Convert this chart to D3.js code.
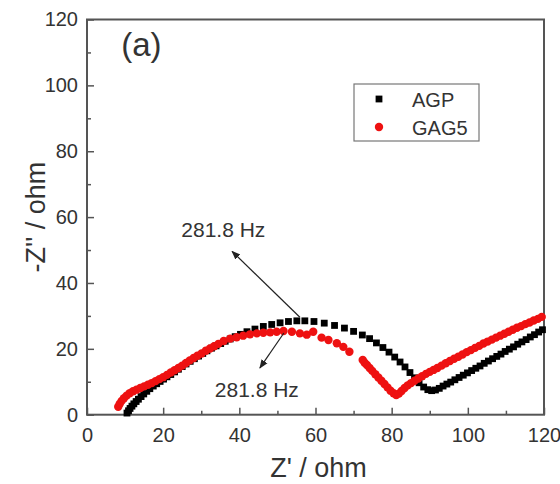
<!DOCTYPE html>
<html><head><meta charset="utf-8">
<script src="https://cdn.jsdelivr.net/npm/d3@7/dist/d3.min.js"></script>
<style>body{margin:0;background:#fff}svg{display:block}text{font-family:"Liberation Sans",Arial,sans-serif;fill:#333}</style>
</head><body><div id="chart"></div>
<script>
const seriesNames = ["AGP", "GAG5"];
const agpZre = [10.5,10.9,11.3,11.8,12.3,12.9,13.5,14.2,14.9,15.7,16.5,17.4,18.3,19.2,20.1,21.0,22.0,23.0,24.0,25.0,26.0,27.1,28.2,29.3,30.4,31.5,32.7,33.9,35.1,36.3,37.6,38.9,40.3,42.0,44.1,46.3,48.5,50.7,52.9,55.1,57.2,59.6,62.3,65.0,67.6,70.0,72.3,74.2,76.0,77.7,79.3,80.8,82.2,83.5,84.8,86.0,87.2,88.4,89.5,90.5,91.5,92.5,93.5,94.5,95.5,96.6,97.7,98.8,99.9,101.0,102.1,103.2,104.3,105.4,106.5,107.6,108.7,109.8,110.9,112.0,113.1,114.2,115.3,116.4,117.5,118.6,119.6];
const agpZim = [0.5,1.2,1.9,2.6,3.3,4.0,4.7,5.5,6.3,7.1,7.9,8.7,9.4,10.1,10.8,11.5,12.2,13.0,13.8,14.6,15.4,16.2,17.0,17.8,18.6,19.4,20.2,20.9,21.6,22.3,23.0,23.7,24.4,25.2,26.0,26.8,27.4,27.9,28.3,28.5,28.5,28.3,27.8,27.1,26.3,25.3,24.2,23.1,21.8,20.4,19.0,17.5,16.0,14.5,12.8,11.2,9.7,8.4,7.6,7.3,7.5,8.0,8.7,9.3,9.9,10.6,11.3,12.0,12.7,13.4,14.1,14.8,15.6,16.3,17.0,17.7,18.4,19.2,19.9,20.6,21.4,22.1,22.8,23.6,24.3,25.1,25.8];
const gagZre = [8.2,8.6,9.1,9.7,10.4,11.2,12.1,13.0,14.0,15.0,16.0,17.0,18.0,19.0,20.0,21.0,22.0,23.0,24.0,25.0,26.0,27.0,28.0,29.0,30.1,31.2,32.3,33.4,34.5,35.9,37.6,39.3,41.0,42.8,44.6,46.3,48.1,49.8,51.6,53.8,55.9,57.7,59.4,61.6,63.4,65.6,67.3,68.9,72.4,72.9,73.5,74.2,74.9,75.7,76.5,77.3,78.1,78.9,79.7,80.5,81.2,81.9,82.6,83.4,84.2,85.1,86.0,87.0,88.0,89.0,90.0,91.0,92.0,93.1,94.2,95.3,96.4,97.5,98.6,99.7,100.8,101.9,103.0,104.1,105.2,106.3,107.4,108.5,109.6,110.7,111.8,112.9,114.0,115.1,116.2,117.3,118.4,119.4];
const gagZim = [2.4,3.3,4.2,5.0,5.8,6.5,7.1,7.6,8.1,8.6,9.1,9.6,10.2,10.8,11.4,12.1,12.8,13.5,14.2,14.9,15.7,16.5,17.2,17.9,18.6,19.4,20.1,20.8,21.5,22.4,23.1,23.5,24.0,24.4,24.7,24.9,25.0,25.2,25.4,25.2,24.7,24.3,25.2,23.4,22.7,21.7,20.6,19.1,16.6,15.8,15.1,14.2,13.3,12.3,11.3,10.3,9.3,8.3,7.3,6.5,6.0,6.4,7.2,8.1,8.9,9.6,10.3,11.0,11.7,12.4,13.0,13.6,14.2,14.9,15.6,16.3,17.0,17.6,18.3,19.0,19.6,20.3,20.9,21.6,22.2,22.8,23.4,24.0,24.6,25.2,25.8,26.4,26.9,27.5,28.0,28.6,29.1,29.7];
const xTicks = [0, 20, 40, 60, 80, 100, 120];
const yTicks = [0, 20, 40, 60, 80, 100, 120];
const annLabels = ["281.8 Hz", "281.8 Hz"];
const annFrom = [[55.9, 29.6], [51.7, 24.8]];
const annTo = [[38.1, 49.6], [45.4, 14.2]];
const annText = [[35.8, 54.0], [44.6, 5.5]];

const W = 560, H = 484;
const m = {l: 87, r: 16, t: 19.5, b: 69.3};
const svg = d3.select("#chart").append("svg").attr("width", W).attr("height", H);
const x = d3.scaleLinear().domain([0, 120]).range([m.l, W - m.r]);
const y = d3.scaleLinear().domain([0, 120]).range([H - m.b, m.t]);

svg.append("defs").append("marker").attr("id", "ah").attr("viewBox", "0 0 10 10")
  .attr("refX", 9).attr("refY", 5).attr("markerWidth", 9).attr("markerHeight", 9)
  .attr("markerUnits", "userSpaceOnUse").attr("orient", "auto")
  .append("path").attr("d", "M0,1 L10,5 L0,9 Z").attr("fill", "#222");

const minor = d3.range(10, 120, 20);
const axisCol = "#555";
const xAxis = d3.axisBottom(x).tickValues(xTicks).tickSize(-7).tickPadding(13).tickFormat(d3.format("d"));
const yAxis = d3.axisLeft(y).tickValues(yTicks).tickSize(-7).tickPadding(9).tickFormat(d3.format("d"));
const gx = svg.append("g").attr("transform", `translate(0,${H - m.b})`).call(xAxis);
const gy = svg.append("g").attr("transform", `translate(${m.l},0)`).call(yAxis);
[gx, gy].forEach(g => {
  g.select(".domain").remove();
  g.selectAll(".tick line").attr("stroke", axisCol).attr("stroke-width", 1.5);
  g.selectAll(".tick text").style("font-size", "20px").attr("fill", "#333");
});
svg.append("g").attr("transform", `translate(0,${H - m.b})`)
  .call(d3.axisBottom(x).tickValues(minor).tickSize(-4).tickFormat(""))
  .call(g => { g.select(".domain").remove(); g.selectAll("line").attr("stroke", axisCol).attr("stroke-width", 1.5); });
svg.append("g").attr("transform", `translate(${m.l},0)`)
  .call(d3.axisLeft(y).tickValues(minor).tickSize(-4).tickFormat(""))
  .call(g => { g.select(".domain").remove(); g.selectAll("line").attr("stroke", axisCol).attr("stroke-width", 1.5); });

svg.append("rect").attr("x", x(0)).attr("y", y(120)).attr("width", x(120) - x(0)).attr("height", y(0) - y(120))
  .attr("fill", "none").attr("stroke", axisCol).attr("stroke-width", 2);

const agp = agpZre.map((v, i) => [v, agpZim[i]]);
const gag = gagZre.map((v, i) => [v, gagZim[i]]);
svg.append("g").selectAll("rect").data(agp).join("rect")
  .attr("x", d => x(d[0]) - 3.4).attr("y", d => y(d[1]) - 3.4).attr("width", 6.8).attr("height", 6.8).attr("fill", "#000");
svg.append("g").selectAll("circle").data(gag).join("circle")
  .attr("cx", d => x(d[0])).attr("cy", d => y(d[1])).attr("r", 4.2).attr("fill", "#ee1111");

annFrom.forEach((f, i) => {
  svg.append("line").attr("x1", x(f[0])).attr("y1", y(f[1])).attr("x2", x(annTo[i][0])).attr("y2", y(annTo[i][1]))
    .attr("stroke", "#222").attr("stroke-width", 1.2).attr("marker-end", "url(#ah)");
  svg.append("text").attr("x", x(annText[i][0])).attr("y", y(annText[i][1])).attr("text-anchor", "middle")
    .style("font-size", "21px").text(annLabels[i]);
});

svg.append("text").attr("x", x(9)).attr("y", y(109)).style("font-size", "33px").text("(a)");

svg.append("text").attr("x", x(60) + 3).attr("y", 477).attr("text-anchor", "middle").style("font-size", "27px").text("Z' / ohm");
svg.append("text").attr("transform", `translate(45,${y(60)}) rotate(-90)`).attr("text-anchor", "middle").style("font-size", "27px").text("-Z'' / ohm");

const lg = svg.append("g");
lg.append("rect").attr("x", 354).attr("y", 84).attr("width", 125).attr("height", 57).attr("fill", "#fff").attr("stroke", "#777").attr("stroke-width", 1.2);
lg.append("rect").attr("x", 379 - 3.4).attr("y", 99 - 3.4).attr("width", 6.8).attr("height", 6.8).attr("fill", "#000");
lg.append("circle").attr("cx", 379).attr("cy", 127).attr("r", 4.2).attr("fill", "#ee1111");
lg.append("text").attr("x", 412).attr("y", 106.5).style("font-size", "20px").text(seriesNames[0]);
lg.append("text").attr("x", 412).attr("y", 134.5).style("font-size", "20px").text(seriesNames[1]);
</script></body></html>
